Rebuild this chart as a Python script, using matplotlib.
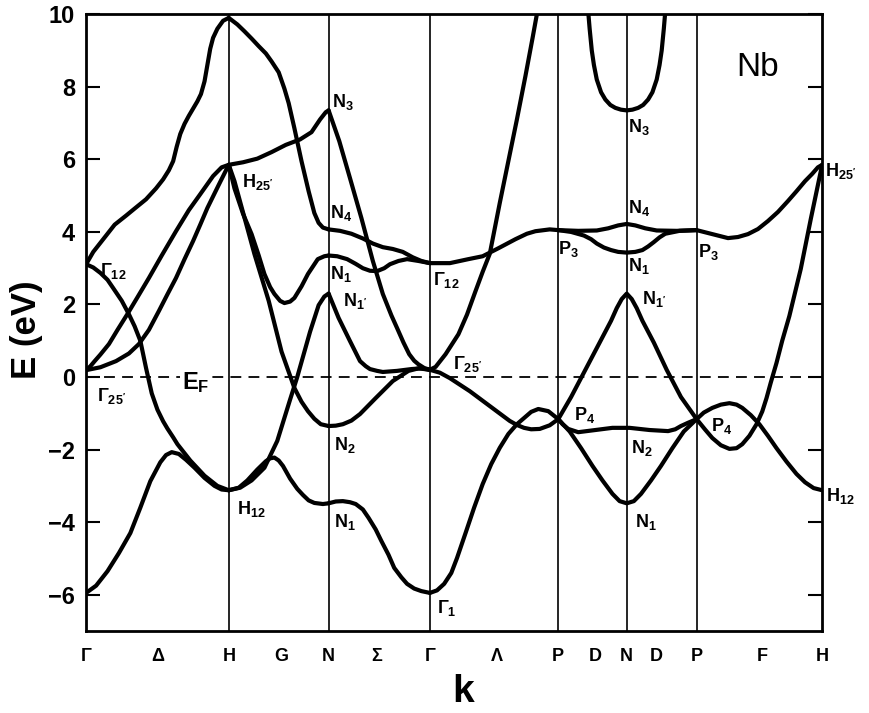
import matplotlib.pyplot as plt

plt.rcParams['font.family'] = 'Liberation Sans'
plt.rcParams['font.weight'] = 'bold'
plt.rcParams['mathtext.fontset'] = 'custom'
plt.rcParams['mathtext.rm'] = 'Liberation Sans:bold'
plt.rcParams['mathtext.it'] = 'Liberation Sans:bold'
plt.rcParams['mathtext.bf'] = 'Liberation Sans:bold'

# symmetry points along the k path (Γ-H-N-Γ-P-N-P-H)
k_nodes = [0.0, 1.0, 1.70, 2.41, 3.31, 3.79, 4.28, 5.16]
k_ticks = [0.0, 0.5, 1.0, 1.37, 1.70, 2.04, 2.41, 2.88, 3.31, 3.57, 3.79, 4.0, 4.28, 4.74, 5.16]
k_tick_labels = ['Γ', 'Δ', 'H', 'G', 'N', 'Σ', 'Γ', 'Λ', 'P', 'D', 'N', 'D', 'P', 'F', 'H']
e_ticks = [-6, -4, -2, 0, 2, 4, 6, 8, 10]

# bands, segment by segment: (k, E in eV)
seg_gamma_h = [
    ([0, .07, .15, .23, .31, .38, .45, .52, .56, .60, .65, .70, .76, .83, .90, .95, 1.0],
     [-5.95, -5.75, -5.35, -4.85, -4.3, -3.6, -2.87, -2.35, -2.15, -2.07, -2.12, -2.28, -2.5, -2.78, -3.0, -3.1, -3.12]),
    ([0, .05, .10, .15, .19, .25, .30, .34, .38, .42, .46, .50, .54, .57, .61, .64, .68, .73, .83, .92, 1.0],
     [3.11, 3.02, 2.87, 2.68, 2.45, 2.1, 1.73, 1.4, 1.0, 0.25, -0.45, -0.9, -1.22, -1.42, -1.66, -1.85, -2.05, -2.3, -2.72, -3.0, -3.12]),
    ([0, .03, .06, .10, .16, .22, .29, .36, .44, .53, .63, .72, .80, .89, .95, 1.0],
     [0.19, 0.3, 0.44, 0.62, 0.91, 1.3, 1.74, 2.2, 2.73, 3.35, 4.02, 4.6, 5.04, 5.54, 5.78, 5.85]),
    ([0, .10, .21, .30, .37, .44, .51, .57, .63, .69, .75, .80, .85, .93, 1.0],
     [0.19, 0.27, 0.44, 0.65, 0.91, 1.3, 1.82, 2.28, 2.73, 3.25, 3.75, 4.2, 4.66, 5.3, 5.85]),
    ([0, .05, .11, .2, .28, .345, .42, .49, .54, .58, .61, .635, .66, .69, .72, .75, .78, .805, .83, .85, .87, .89, .92, .96, 1.0],
     [3.11, 3.45, 3.75, 4.2, 4.45, 4.66, 4.9, 5.2, 5.45, 5.7, 5.95, 6.35, 6.7, 6.98, 7.2, 7.4, 7.6, 7.8, 8.15, 8.6, 9.05, 9.35, 9.6, 9.82, 9.9]),
]

seg_h_n = [
    ([1.0, 1.06, 1.11, 1.16, 1.21, 1.26, 1.30, 1.35, 1.39, 1.42, 1.46, 1.51, 1.56, 1.60, 1.63, 1.66, 1.70],
     [9.9, 9.72, 9.53, 9.33, 9.12, 8.92, 8.7, 8.4, 7.95, 7.55, 6.86, 5.95, 5.12, 4.52, 4.25, 4.12, 4.07]),
    ([1.0, 1.1, 1.2, 1.3, 1.4, 1.5, 1.58, 1.64, 1.68, 1.70],
     [5.85, 5.92, 6.02, 6.2, 6.4, 6.55, 6.75, 7.1, 7.3, 7.35]),
    ([1.0, 1.04, 1.10, 1.16, 1.21, 1.25, 1.29, 1.32, 1.36, 1.39, 1.43, 1.46, 1.51, 1.555, 1.624, 1.67, 1.70],
     [5.85, 5.2, 4.5, 3.94, 3.35, 2.84, 2.48, 2.29, 2.1, 2.04, 2.08, 2.18, 2.5, 2.84, 3.25, 3.33, 3.35]),
    ([1.0, 1.04, 1.18, 1.28, 1.37, 1.46, 1.51, 1.555, 1.60, 1.645, 1.70],
     [5.85, 5.4, 3.39, 2.1, 0.7, -0.3, -0.68, -0.94, -1.15, -1.3, -1.35]),
    ([1.0, 1.08, 1.16, 1.25, 1.34, 1.43, 1.48, 1.57, 1.63, 1.67, 1.70],
     [-3.12, -3.05, -2.85, -2.5, -1.76, -0.62, 0.0, 1.25, 1.98, 2.22, 2.3]),
    ([1.0, 1.07, 1.13, 1.2, 1.26, 1.29, 1.32, 1.35, 1.38, 1.43, 1.48, 1.52, 1.56, 1.60, 1.66, 1.70],
     [-3.12, -3.05, -2.85, -2.55, -2.32, -2.24, -2.22, -2.3, -2.45, -2.8, -3.08, -3.25, -3.4, -3.47, -3.5, -3.48]),
]

seg_n_gamma = [
    ([1.70, 1.775, 1.85, 1.93, 2.01, 2.08, 2.14, 2.18, 2.225, 2.265, 2.30, 2.33, 2.37, 2.41],
     [7.35, 6.5, 5.48, 4.38, 3.2, 2.29, 1.7, 1.35, 0.95, 0.63, 0.45, 0.35, 0.25, 0.2]),
    ([1.70, 1.78, 1.86, 1.94, 2.01, 2.08, 2.15, 2.22, 2.29, 2.35, 2.41],
     [4.07, 4.03, 3.95, 3.82, 3.68, 3.58, 3.53, 3.45, 3.3, 3.2, 3.14]),
    ([1.70, 1.76, 1.83, 1.89, 1.94, 1.99, 2.04, 2.09, 2.13, 2.19, 2.25, 2.33, 2.41],
     [3.35, 3.33, 3.25, 3.12, 3.0, 2.93, 2.92, 3.0, 3.11, 3.2, 3.25, 3.2, 3.14]),
    ([1.70, 1.77, 1.85, 1.92, 1.96, 1.99, 2.04, 2.08, 2.18, 2.28, 2.35, 2.41],
     [2.3, 1.63, 0.99, 0.44, 0.3, 0.22, 0.17, 0.14, 0.17, 0.22, 0.24, 0.2]),
    ([1.70, 1.75, 1.80, 1.86, 1.92, 2.03, 2.15, 2.26, 2.33, 2.41],
     [-1.35, -1.34, -1.3, -1.2, -1.02, -0.58, -0.11, 0.17, 0.24, 0.2]),
    ([1.70, 1.75, 1.80, 1.85, 1.89, 1.94, 1.98, 2.03, 2.07, 2.12, 2.16, 2.21, 2.25, 2.30, 2.35, 2.41],
     [-3.48, -3.43, -3.42, -3.45, -3.5, -3.65, -3.88, -4.2, -4.52, -4.9, -5.26, -5.52, -5.7, -5.83, -5.9, -5.95]),
]

seg_gamma_p = [
    ([2.41, 2.45, 2.52, 2.61, 2.67, 2.73, 2.78, 2.83, 2.90, 2.96, 3.02, 3.08, 3.13, 3.16, 3.18],
     [0.2, 0.28, 0.63, 1.18, 1.72, 2.37, 2.9, 3.4, 4.8, 5.95, 7.1, 8.3, 9.35, 10.0, 10.4]),
    ([2.41, 2.55, 2.68, 2.78, 2.89, 3.01, 3.09, 3.15, 3.25, 3.31],
     [3.14, 3.14, 3.25, 3.33, 3.55, 3.8, 3.95, 4.02, 4.07, 4.05]),
    ([2.41, 2.48, 2.55, 2.69, 2.83, 2.97, 3.02, 3.07, 3.12, 3.18, 3.25, 3.31],
     [0.2, 0.12, -0.03, -0.39, -0.8, -1.21, -1.32, -1.4, -1.44, -1.43, -1.33, -1.16]),
    ([2.41, 2.46, 2.51, 2.56, 2.60, 2.66, 2.72, 2.78, 2.84, 2.90, 2.96, 3.02, 3.07, 3.12, 3.17, 3.24, 3.31],
     [-5.95, -5.88, -5.7, -5.4, -4.99, -4.3, -3.6, -2.95, -2.4, -1.95, -1.57, -1.3, -1.13, -0.96, -0.88, -0.94, -1.16]),
]

seg_p_n_p = [
    ([3.515, 3.53, 3.545, 3.56, 3.58, 3.61, 3.64, 3.675, 3.71, 3.75, 3.79, 3.83, 3.87, 3.905, 3.94, 3.97, 4.0, 4.02, 4.035, 4.05, 4.065],
     [10.3, 9.6, 9.0, 8.6, 8.2, 7.85, 7.65, 7.5, 7.42, 7.37, 7.35, 7.37, 7.42, 7.5, 7.65, 7.85, 8.2, 8.6, 9.0, 9.6, 10.3]),
    ([3.31, 3.45, 3.58, 3.66, 3.73, 3.79, 3.85, 3.92, 4.0, 4.14, 4.28],
     [4.05, 4.03, 4.04, 4.1, 4.18, 4.22, 4.18, 4.1, 4.04, 4.03, 4.05]),
    ([3.31, 3.40, 3.49, 3.54, 3.58, 3.63, 3.68, 3.73, 3.79, 3.85, 3.90, 3.94, 3.98, 4.02, 4.06, 4.16, 4.28],
     [4.05, 4.0, 3.9, 3.8, 3.68, 3.57, 3.5, 3.45, 3.43, 3.45, 3.5, 3.6, 3.72, 3.85, 3.95, 4.03, 4.05]),
    ([3.31, 3.40, 3.50, 3.60, 3.68, 3.72, 3.755, 3.79, 3.825, 3.86, 3.90, 3.98, 4.07, 4.17, 4.28],
     [-1.16, -0.55, 0.2, 0.95, 1.55, 1.9, 2.15, 2.3, 2.15, 1.9, 1.55, 0.95, 0.2, -0.55, -1.16]),
    ([3.31, 3.34, 3.38, 3.45, 3.57, 3.69, 3.81, 3.95, 4.08, 4.13, 4.17, 4.22, 4.28],
     [-1.16, -1.3, -1.43, -1.52, -1.46, -1.4, -1.4, -1.46, -1.49, -1.44, -1.35, -1.26, -1.16]),
    ([3.31, 3.39, 3.47, 3.55, 3.62, 3.69, 3.74, 3.79, 3.84, 3.89, 3.96, 4.03, 4.11, 4.19, 4.28],
     [-1.16, -1.5, -1.96, -2.45, -2.85, -3.22, -3.42, -3.48, -3.42, -3.22, -2.85, -2.45, -1.96, -1.5, -1.16]),
]

seg_p_h = [
    ([4.28, 4.36, 4.43, 4.50, 4.57, 4.64, 4.71, 4.78, 4.85, 4.92, 4.98, 5.04, 5.09, 5.13, 5.16],
     [4.05, 3.97, 3.9, 3.83, 3.86, 3.94, 4.08, 4.3, 4.55, 4.85, 5.12, 5.4, 5.6, 5.78, 5.85]),
    ([4.28, 4.34, 4.39, 4.45, 4.51, 4.56, 4.60, 4.65, 4.70, 4.74, 4.77, 4.80, 4.84, 4.88, 4.93, 5.01, 5.08, 5.16],
     [-1.16, -1.45, -1.68, -1.88, -1.98, -1.96, -1.85, -1.62, -1.3, -0.95, -0.58, -0.15, 0.39, 1.0, 1.68, 2.98, 4.35, 5.85]),
    ([4.28, 4.33, 4.39, 4.45, 4.51, 4.56, 4.60, 4.66, 4.72, 4.78, 4.84, 4.91, 4.98, 5.04, 5.10, 5.16],
     [-1.16, -0.98, -0.85, -0.76, -0.72, -0.76, -0.85, -1.05, -1.3, -1.62, -1.96, -2.33, -2.67, -2.9, -3.06, -3.12]),
]

# level labels: (text, k, E)
level_labels = [
    ('Γ$_{12}$', 0.10, 2.92), ('Γ$_{25\'}$', 0.077, -0.52),
    ('H$_{25\'}$', 1.095, 5.37), ('H$_{12}$', 1.06, -3.64),
    ('N$_3$', 1.727, 7.58), ('N$_4$', 1.71, 4.52), ('N$_1$', 1.71, 2.84),
    ('N$_{1\'}$', 1.80, 2.09), ('N$_2$', 1.735, -1.87), ('N$_1$', 1.735, -4.0),
    ('Γ$_{12}$', 2.43, 2.67), ('Γ$_{25\'}$', 2.575, 0.36), ('Γ$_1$', 2.46, -6.36),
    ('P$_3$', 3.31, 3.53), ('P$_4$', 3.42, -1.05),
    ('N$_3$', 3.80, 6.89), ('N$_4$', 3.80, 4.66), ('N$_1$', 3.80, 3.06),
    ('N$_{1\'}$', 3.90, 2.15), ('N$_2$', 3.82, -1.96), ('N$_1$', 3.85, -4.0),
    ('P$_3$', 4.29, 3.44), ('P$_4$', 4.38, -1.35),
    ('H$_{25\'}$', 5.18, 5.67), ('H$_{12}$', 5.19, -3.28),
]

fig = plt.figure(figsize=(8.7, 7.13), dpi=100)
ax = fig.add_axes([0.099, 0.115, 0.846, 0.865])

for seg in [seg_gamma_h, seg_h_n, seg_n_gamma, seg_gamma_p, seg_p_n_p, seg_p_h]:
    for ks, es in seg:
        ax.plot(ks, es, color='black', lw=3, solid_joinstyle='round', solid_capstyle='round')

for k in k_nodes[1:-1]:
    ax.axvline(k, color='black', lw=1.2)

ax.axhline(0, color='black', lw=1.3, ls=(0, (6, 4)))
ax.text(0.67, -0.14, 'E$_F$', fontsize=17, ha='left', va='center',
        bbox=dict(facecolor='white', edgecolor='none', pad=1))

for txt, k, e in level_labels:
    ax.text(k, e, txt, fontsize=13, ha='left', va='center', clip_on=False)

ax.text(4.71, 8.54, 'Nb', fontsize=24, fontweight='normal', ha='center', va='center')

ax.set_xlim(k_nodes[0], k_nodes[-1])
ax.set_ylim(-7, 10)
ax.set_xticks(k_ticks)
ax.set_xticklabels(k_tick_labels, fontsize=13)
ax.set_yticks(e_ticks)
ax.set_yticklabels([str(v).replace('-', '−') for v in e_ticks], fontsize=17)
ax.tick_params(axis='x', length=0, pad=12)
ax.tick_params(axis='y', direction='in', length=10, width=1.5, left=True, right=True, pad=8)
for sp in ax.spines.values():
    sp.set_linewidth(2)

fig.text(0.532, 0.029, 'k', fontsize=28, ha='center', va='center')
fig.text(0.031, 0.537, 'E (eV)', fontsize=25, rotation=90, ha='center', va='center')

fig.savefig('out.png', dpi=100)
